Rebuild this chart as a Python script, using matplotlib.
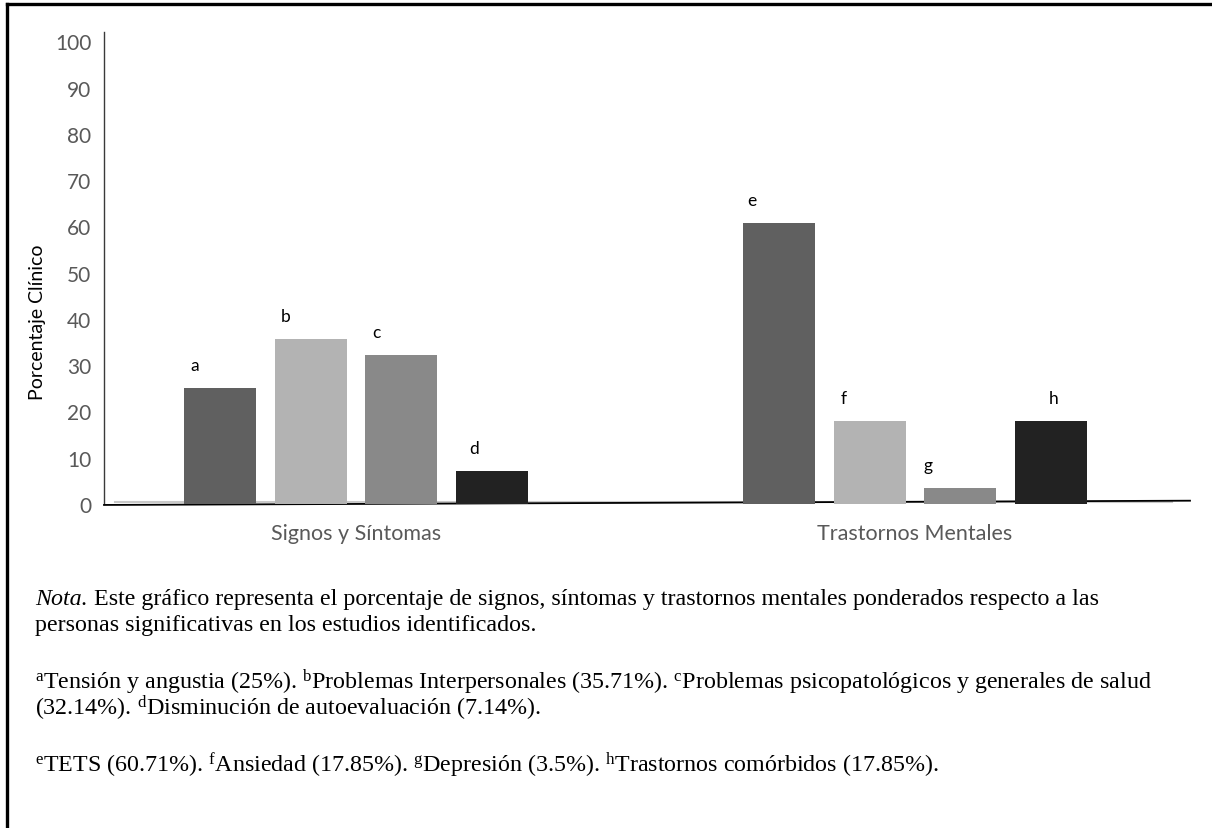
import matplotlib
matplotlib.use('Agg')
import matplotlib.pyplot as plt
from matplotlib.lines import Line2D
import numpy as np

plt.rcParams['font.family'] = ['Lato', 'DejaVu Sans']
plt.rcParams['mathtext.fontset'] = 'custom'
plt.rcParams['mathtext.rm'] = 'Liberation Serif'
plt.rcParams['mathtext.it'] = 'Liberation Serif:italic'

# data
categories = ['Signos y Síntomas', 'Trastornos Mentales']
letters = [['a', 'b', 'c', 'd'], ['e', 'f', 'g', 'h']]
values = [[25, 35.71, 32.14, 7.14], [60.71, 17.85, 3.5, 17.85]]
yticks = [0, 10, 20, 30, 40, 50, 60, 70, 80, 90, 100]

nota_head = "Nota."
nota_rest = " Este gráfico representa el porcentaje de signos, síntomas y trastornos mentales ponderados respecto a las"
nota_line2 = "personas significativas en los estudios identificados."
notes_sig = (r"$^{\mathrm{a}}$Tensión y angustia (25%). $^{\mathrm{b}}$Problemas Interpersonales (35.71%). $^{\mathrm{c}}$Problemas psicopatológicos y generales de salud"
             "\n" r"(32.14%). $^{\mathrm{d}}$Disminución de autoevaluación (7.14%).")
notes_tm = r"$^{\mathrm{e}}$TETS (60.71%). $^{\mathrm{f}}$Ansiedad (17.85%). $^{\mathrm{g}}$Depresión (3.5%). $^{\mathrm{h}}$Trastornos comórbidos (17.85%)."

colors = ['#606060', '#b3b3b3', '#898989', '#222222']
# small shifts of the letters relative to bar centre (as in the original)
letter_shift = [[-0.045, -0.045, -0.045, -0.032], [-0.048, -0.047, -0.057, 0.005]]

W, H = 1212, 829
fig = plt.figure(figsize=(W / 100, H / 100), dpi=100)
ax = fig.add_axes([104 / W, 1 - 505 / H, (1190 - 104) / W, (505 - 33) / H])

pitch = 0.162
width = 0.129
x = np.arange(len(categories))
for i in range(4):
    vals = [values[g][i] for g in range(len(categories))]
    pos = x + (i - 1.5) * pitch
    ax.bar(pos, vals, width=width, color=colors[i], zorder=4)
    for g in range(len(categories)):
        ax.text(pos[g] + letter_shift[g][i], vals[g] + 5, letters[g][i],
                ha='center', va='center', fontsize=12.5, color='black')

ax.set_xlim(-0.451, 1.492)
ax.set_ylim(0, 102)
ax.set_yticks(yticks)
ax.set_xticks(x)
ax.set_xticklabels(categories)
ax.tick_params(axis='y', length=0, pad=9, labelsize=15, labelcolor='#595959')
ax.tick_params(axis='x', length=0, pad=14, labelsize=15.5, labelcolor='#595959')
for s in ['top', 'right', 'bottom']:
    ax.spines[s].set_visible(False)
ax.spines['left'].set_color('#3a3a3a')
ax.spines['left'].set_linewidth(1.0)

# baseline: faint grey line plus a slightly tilted black axis line
ax.axhline(0.4, xmin=0.01, xmax=0.983, color='#c8c8c8', lw=1.5, zorder=1)
ax.plot([0, 1], [-0.002, 0.007], transform=ax.transAxes, color='black', lw=1.3,
        clip_on=False, zorder=3)

fig.text(38 / W, 1 - 322 / H, 'Porcentaje Clínico', rotation=90, ha='center',
         va='center', fontsize=14, color='black')

# note below the chart
fs = 17.3
serif = 'Liberation Serif'
head = fig.text(35 / W, 1 - 605 / H, nota_head, ha='left', va='baseline',
                fontsize=fs, family=serif, style='italic')
ax.annotate(nota_rest, xy=(1, 0), xycoords=head, ha='left', va='bottom',
            fontsize=fs, family=serif, annotation_clip=False)
fig.text(35 / W, 1 - 631 / H, nota_line2, ha='left', va='baseline',
         fontsize=fs, family=serif)
fig.text(35 / W, 1 - 668 / H, notes_sig, ha='left', va='top', fontsize=fs,
         family=serif, linespacing=0.82)
fig.text(35 / W, 1 - 772 / H, notes_tm, ha='left', va='baseline', fontsize=fs,
         family=serif)

# frame (left and top edges)
fig.add_artist(Line2D([7 / W, 7 / W], [0, 1 - 5 / H], color='black', lw=2.4))
fig.add_artist(Line2D([7 / W, 1], [1 - 5 / H, 1 - 5 / H], color='black', lw=2.4))

fig.savefig('out.png', dpi=100)
